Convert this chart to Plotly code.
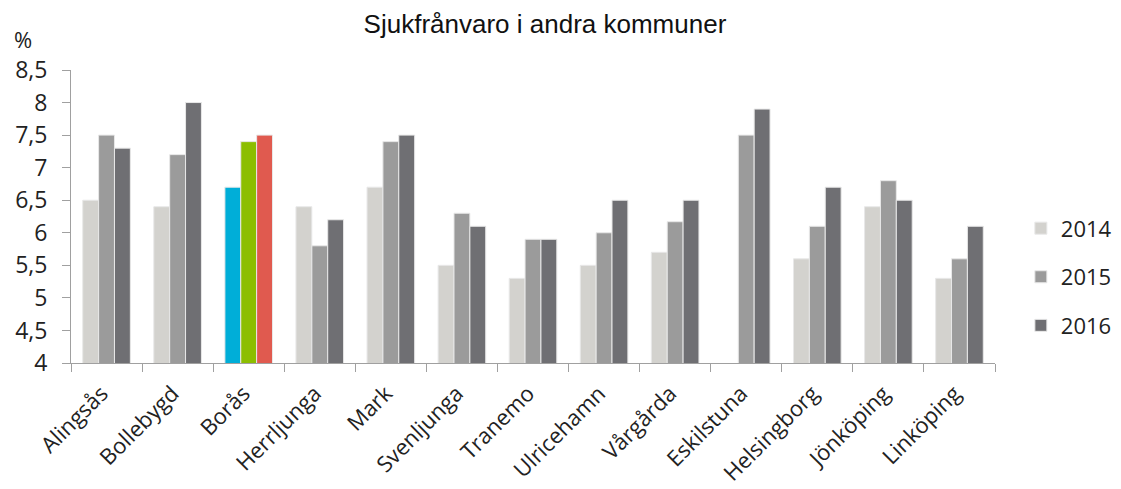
import plotly.graph_objects as go

kommuner = ['Alingsås', 'Bollebygd', 'Borås', 'Herrljunga', 'Mark', 'Svenljunga', 'Tranemo',
            'Ulricehamn', 'Vårgårda', 'Eskilstuna', 'Helsingborg', 'Jönköping', 'Linköping']
y2014 = [6.5, 6.4, 6.7, 6.4, 6.7, 5.5, 5.3, 5.5, 5.7, None, 5.6, 6.4, 5.3]
y2015 = [7.5, 7.2, 7.4, 5.8, 7.4, 6.3, 5.9, 6.0, 6.17, 7.5, 6.1, 6.8, 5.6]
y2016 = [7.3, 8.0, 7.5, 6.2, 7.5, 6.1, 5.9, 6.5, 6.5, 7.9, 6.7, 6.5, 6.1]
years = ['2014', '2015', '2016']
y_ticks = [4, 4.5, 5, 5.5, 6, 6.5, 7, 7.5, 8, 8.5]
y_labels = ['4', '4,5', '5', '5,5', '6', '6,5', '7', '7,5', '8', '8,5']

# Borås sticker ut med egna färger
farger = {'2014': '#D3D2CE', '2015': '#9B9B9B', '2016': '#6F6F73'}
boras = {'2014': '#00AED8', '2015': '#8CBE00', '2016': '#E05A4F'}

fig = go.Figure()
for yr, vals in zip(years, [y2014, y2015, y2016]):
    cols = [boras[yr] if k == 'Borås' else farger[yr] for k in kommuner]
    fig.add_trace(go.Bar(
        name=yr, x=kommuner, y=vals, legendgroup=yr,
        marker=dict(color=cols, line=dict(color='#E8E8E8', width=1)),
    ))

fig.update_layout(
    width=1121, height=489,
    barmode='group', bargap=0.33, bargroupgap=0,
    plot_bgcolor='white', paper_bgcolor='white',
    margin=dict(l=63, r=129, t=62, b=134),
    title=dict(text='Sjukfrånvaro i andra kommuner', x=0.479, xanchor='center',
               y=0.968, yanchor='middle',
               font=dict(family='Liberation Sans', size=26, color='#111')),
    font=dict(family='Open Sans', color='#222'),
    legend=dict(x=1.028, y=0.294, xanchor='left', yanchor='middle', tracegroupgap=17,
                font=dict(size=22, color='#222'), itemwidth=30),
    showlegend=True,
)
fig.update_yaxes(range=[4, 8.5], tickvals=y_ticks, ticktext=y_labels, showgrid=False,
                 showline=True, linecolor='#A0A0A0', linewidth=1, ticks='outside',
                 ticklen=8, tickcolor='#A0A0A0', ticklabelstandoff=10, automargin=False,
                 tickfont=dict(size=23, color='#222'), zeroline=False)
fig.update_xaxes(showline=True, linecolor='#A0A0A0', linewidth=1, ticks='outside', tickson='boundaries',
                 ticklen=8, tickcolor='#A0A0A0', tickangle=-45, ticklabelstandoff=8,
                 ticklabelshift=-5, automargin=False, tickfont=dict(size=22, color='#222'))
fig.add_annotation(text='%', xref='paper', yref='paper', x=-0.064, y=1.105, showarrow=False,
                   xanchor='left', yanchor='middle', font=dict(size=22, family='Open Sans', color='#222'))

fig.write_html("out.html")
